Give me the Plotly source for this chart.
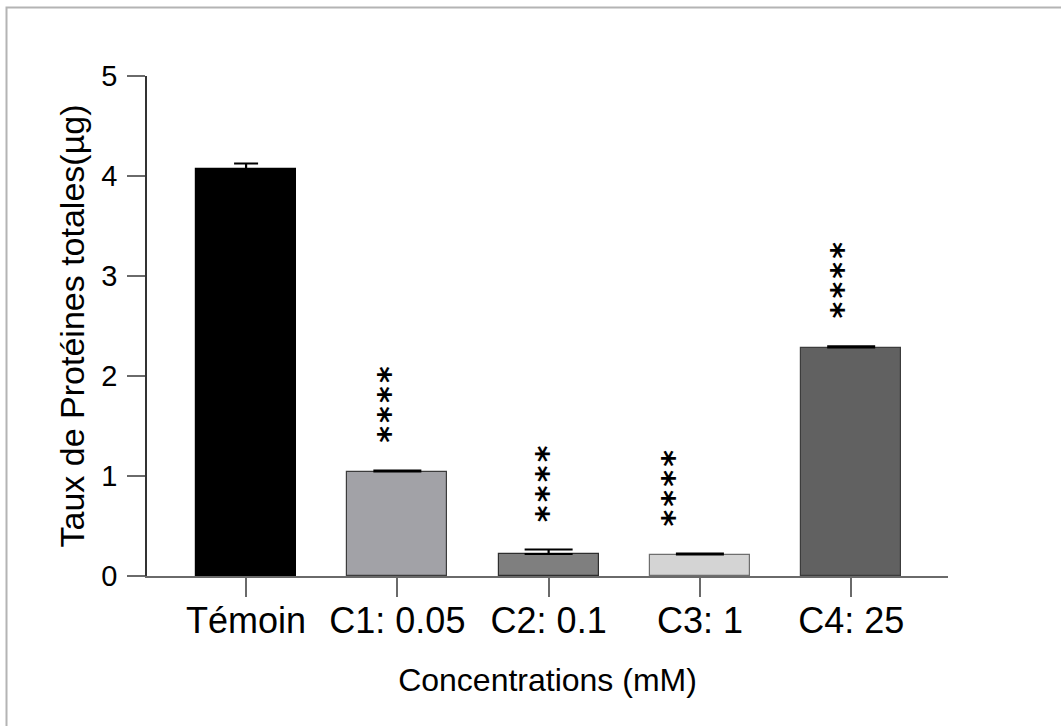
import plotly.graph_objects as go

# Total protein content per treatment group
categories = ["Témoin", "C1: 0.05", "C2: 0.1", "C3: 1", "C4: 25"]
proteines = [4.07, 1.045, 0.22, 0.215, 2.285]
erreurs = [0.055, 0.01, 0.045, 0.008, 0.012]
significativite = ["", "****", "****", "****", "****"]
y_ticks = [0, 1, 2, 3, 4, 5]

couleurs = ["#000000", "#a2a2a7", "#7f7f7f", "#d4d4d4", "#616161"]
contours = ["#000000", "#3c3c3c", "#2e2e2e", "#6e6e6e", "#3c3c3c"]
cap_half = [12, 24, 24, 24, 24]
star_dx = [0, -9, -2, -27, -9]

W, H = 1061, 726
ML, MR, MT, MB = 147, 113, 76, 150
PW, PH = W - ML - MR, H - MT - MB

fig = go.Figure()
for i, cat in enumerate(categories):
    fig.add_trace(go.Bar(
        x=[cat], y=[proteines[i]], width=0.66,
        marker=dict(color=couleurs[i], line=dict(color=contours[i], width=1.2)),
        error_y=dict(type="data", symmetric=False, array=[erreurs[i]], arrayminus=[0],
                     color="#000000", thickness=2.2, width=cap_half[i]),
        showlegend=False,
    ))

# significance stars stacked vertically above each treated group
STAR_GAP = 0.66
for i, cat in enumerate(categories):
    if significativite[i]:
        fig.add_annotation(
            x=cat, y=proteines[i] + erreurs[i] + STAR_GAP, xref="x", yref="y",
            text="\u200a".join(significativite[i]), textangle=-90, showarrow=False,
            xanchor="center", yanchor="middle", xshift=star_dx[i],
            font=dict(family="DejaVu Sans", size=32, weight="bold", color="#000000"),
        )

# light grey frame around the figure
fig.add_shape(type="rect", xref="paper", yref="paper",
              x0=(6.5 - ML) / PW, x1=(W + 20 - ML) / PW,
              y0=-(H + 20 - MT - PH) / PH, y1=(H - MB - 7.5) / PH,
              line=dict(color="#b4b4b4", width=2), fillcolor="rgba(0,0,0,0)", layer="below")

fig.update_layout(
    width=W, height=H,
    margin=dict(l=ML, r=MR, t=MT, b=MB),
    paper_bgcolor="#ffffff", plot_bgcolor="#ffffff",
    font=dict(family="Liberation Sans, Arial", color="#000000"),
    bargap=0,
)
fig.update_xaxes(
    range=[-0.655, 4.64], showgrid=False, zeroline=False,
    showline=True, linecolor="#6a6a6a", linewidth=1.5,
    ticks="outside", ticklen=19, tickwidth=1.5, tickcolor="#6a6a6a",
    tickfont=dict(size=36, color="#000000"), ticklabelstandoff=-7,
    title=dict(text="Concentrations (mM)", font=dict(size=32, color="#000000"), standoff=29),
)
fig.update_yaxes(
    range=[0, 5], tickvals=y_ticks, showgrid=False, zeroline=False,
    showline=True, linecolor="#333333", linewidth=1.5,
    ticks="outside", ticklen=18, tickwidth=1.5, tickcolor="#6a6a6a",
    tickfont=dict(size=29, color="#000000"), ticklabelstandoff=4,
    title=dict(text="Taux de Protéines totales(µg)", font=dict(size=34, color="#000000"), standoff=6),
)

fig.write_html("out.html")
